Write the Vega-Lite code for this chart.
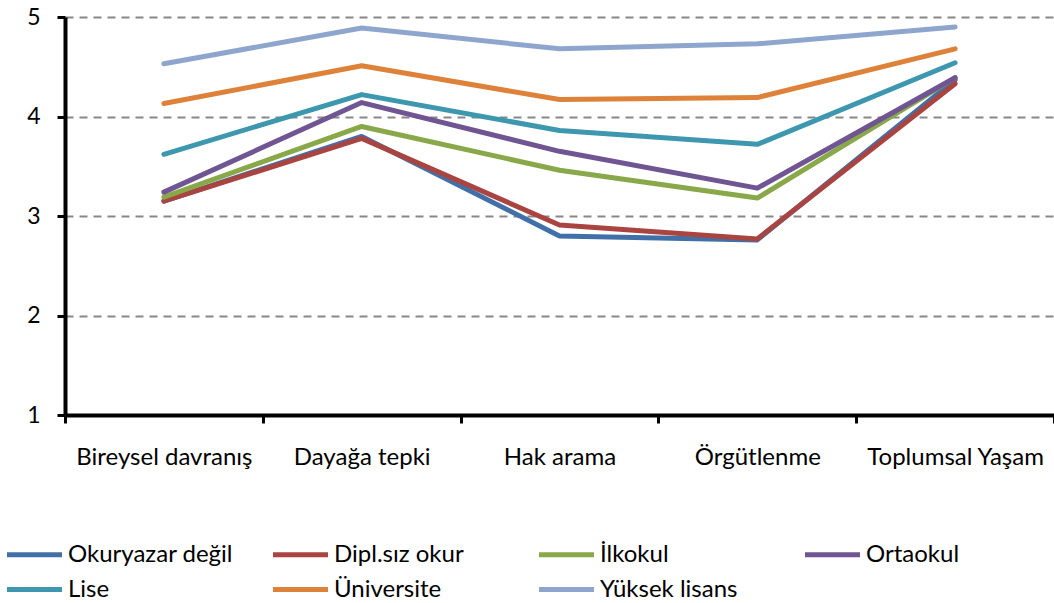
{
  "$schema": "https://vega.github.io/schema/vega-lite/v6.json",
  "width": 989,
  "height": 398,
  "autosize": {"type": "none"},
  "padding": {"left": 65, "top": 17, "right": 0, "bottom": 188},
  "background": "white",
  "config": {
    "view": {"stroke": null},
    "font": "Lato"
  },
  "data": {
    "values": [
      {"kategori": "Bireysel davranış", "grup": "Okuryazar değil", "deger": 3.15},
      {"kategori": "Dayağa tepki", "grup": "Okuryazar değil", "deger": 3.80},
      {"kategori": "Hak arama", "grup": "Okuryazar değil", "deger": 2.80},
      {"kategori": "Örgütlenme", "grup": "Okuryazar değil", "deger": 2.76},
      {"kategori": "Toplumsal Yaşam", "grup": "Okuryazar değil", "deger": 4.37},
      {"kategori": "Bireysel davranış", "grup": "Dipl.sız okur", "deger": 3.15},
      {"kategori": "Dayağa tepki", "grup": "Dipl.sız okur", "deger": 3.78},
      {"kategori": "Hak arama", "grup": "Dipl.sız okur", "deger": 2.91},
      {"kategori": "Örgütlenme", "grup": "Dipl.sız okur", "deger": 2.77},
      {"kategori": "Toplumsal Yaşam", "grup": "Dipl.sız okur", "deger": 4.33},
      {"kategori": "Bireysel davranış", "grup": "İlkokul", "deger": 3.19},
      {"kategori": "Dayağa tepki", "grup": "İlkokul", "deger": 3.90},
      {"kategori": "Hak arama", "grup": "İlkokul", "deger": 3.46},
      {"kategori": "Örgütlenme", "grup": "İlkokul", "deger": 3.18},
      {"kategori": "Toplumsal Yaşam", "grup": "İlkokul", "deger": 4.39},
      {"kategori": "Bireysel davranış", "grup": "Ortaokul", "deger": 3.24},
      {"kategori": "Dayağa tepki", "grup": "Ortaokul", "deger": 4.14},
      {"kategori": "Hak arama", "grup": "Ortaokul", "deger": 3.65},
      {"kategori": "Örgütlenme", "grup": "Ortaokul", "deger": 3.28},
      {"kategori": "Toplumsal Yaşam", "grup": "Ortaokul", "deger": 4.39},
      {"kategori": "Bireysel davranış", "grup": "Lise", "deger": 3.62},
      {"kategori": "Dayağa tepki", "grup": "Lise", "deger": 4.22},
      {"kategori": "Hak arama", "grup": "Lise", "deger": 3.86},
      {"kategori": "Örgütlenme", "grup": "Lise", "deger": 3.72},
      {"kategori": "Toplumsal Yaşam", "grup": "Lise", "deger": 4.54},
      {"kategori": "Bireysel davranış", "grup": "Üniversite", "deger": 4.13},
      {"kategori": "Dayağa tepki", "grup": "Üniversite", "deger": 4.51},
      {"kategori": "Hak arama", "grup": "Üniversite", "deger": 4.17},
      {"kategori": "Örgütlenme", "grup": "Üniversite", "deger": 4.19},
      {"kategori": "Toplumsal Yaşam", "grup": "Üniversite", "deger": 4.68},
      {"kategori": "Bireysel davranış", "grup": "Yüksek lisans", "deger": 4.53},
      {"kategori": "Dayağa tepki", "grup": "Yüksek lisans", "deger": 4.89},
      {"kategori": "Hak arama", "grup": "Yüksek lisans", "deger": 4.68},
      {"kategori": "Örgütlenme", "grup": "Yüksek lisans", "deger": 4.73},
      {"kategori": "Toplumsal Yaşam", "grup": "Yüksek lisans", "deger": 4.90}
    ]
  },
  "mark": {"type": "line", "strokeWidth": 5, "strokeCap": "round", "strokeJoin": "round"},
  "encoding": {
    "x": {
      "field": "kategori",
      "type": "nominal",
      "sort": ["Bireysel davranış", "Dayağa tepki", "Hak arama", "Örgütlenme", "Toplumsal Yaşam"],
      "scale": {"type": "band", "paddingInner": 0, "paddingOuter": 0},
      "bandPosition": 0.5,
      "axis": {
        "title": null,
        "labelAngle": 0,
        "labelFontSize": 24,
        "labelColor": "black",
        "labelPadding": 22,
        "labelBaseline": "top",
        "tickBand": "extent",
        "tickSize": 8,
        "tickWidth": 3,
        "tickColor": "black",
        "domainColor": "black",
        "domainWidth": 4,
        "grid": false
      }
    },
    "y": {
      "field": "deger",
      "type": "quantitative",
      "scale": {"domain": [1, 5], "nice": false, "zero": false},
      "axis": {
        "title": null,
        "values": [1, 2, 3, 4, 5],
        "labelFontSize": 23,
        "labelColor": "black",
        "labelPadding": 17,
        "tickSize": 8,
        "tickWidth": 3,
        "tickColor": "black",
        "domainColor": "black",
        "domainWidth": 4,
        "grid": true,
        "gridColor": "#888888",
        "gridWidth": 2,
        "gridDash": [8, 6]
      }
    },
    "color": {
      "field": "grup",
      "type": "nominal",
      "sort": ["Okuryazar değil", "Dipl.sız okur", "İlkokul", "Ortaokul", "Lise", "Üniversite", "Yüksek lisans"],
      "scale": {
        "domain": ["Okuryazar değil", "Dipl.sız okur", "İlkokul", "Ortaokul", "Lise", "Üniversite", "Yüksek lisans"],
        "range": ["#4170A8", "#A94441", "#88A84A", "#6F5592", "#3D97AF", "#DE823A", "#8EA6CE"]
      },
      "legend": {
        "title": null,
        "orient": "none",
        "legendX": -47,
        "legendY": 521,
        "direction": "horizontal",
        "columns": 4,
        "gridAlign": "all",
        "columnPadding": 29,
        "rowPadding": 6,
        "symbolType": "M-2,0H2",
        "symbolSize": 756,
        "symbolStrokeWidth": 5,
        "symbolStrokeCap": "round",
        "labelFontSize": 24,
        "labelColor": "black",
        "labelOffset": 17,
        "labelLimit": 300
      }
    }
  }
}
